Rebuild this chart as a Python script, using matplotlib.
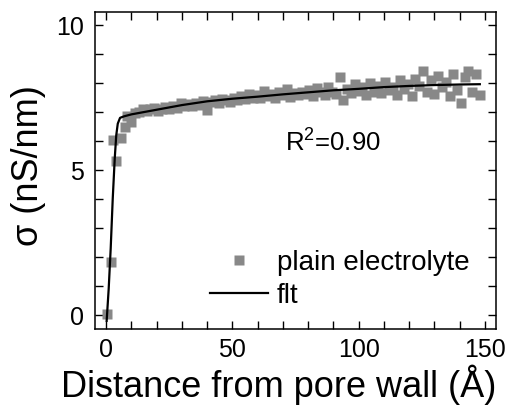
import matplotlib
matplotlib.use("Agg")
import matplotlib.pyplot as plt
from matplotlib.ticker import MultipleLocator

plt.rcParams['font.family'] = ['Liberation Sans', 'DejaVu Sans']
plt.rcParams['mathtext.default'] = 'regular'

# measured conductivity (plain electrolyte)
dist_near = [0.3, 1.9, 2.8, 4.0, 5.7, 7.3, 8.3]
sigma_near = [0.02, 1.84, 6.05, 5.3, 6.1, 6.5, 6.85]

dist_far = [10 + 1.5 * i for i in range(93)]
sigma_far = [
    6.65, 6.95, 7.0, 7.12, 7.05, 7.1, 7.15, 7.05, 7.12, 7.18,
    7.1, 7.2, 7.15, 7.3, 7.22, 7.28, 7.2, 7.32, 7.25, 7.38,
    7.08, 7.35, 7.42, 7.3, 7.45, 7.4, 7.36, 7.5, 7.42, 7.55,
    7.45, 7.62, 7.5, 7.58, 7.48, 7.72, 7.55, 7.62, 7.5, 7.68,
    7.6, 7.78, 7.52, 7.65, 7.58, 7.7, 7.62, 7.75, 7.55, 7.82,
    7.68, 7.6, 7.85, 7.7, 7.62, 8.2, 7.42, 7.8, 7.65, 7.95,
    7.72, 7.85, 7.58, 8.0, 7.7, 7.9, 7.65, 8.02, 7.75, 7.88,
    7.6, 8.1, 7.8, 7.95, 7.55, 8.15, 7.9, 8.42, 7.7, 8.1,
    7.62, 8.25, 7.85, 8.05, 7.55, 8.3, 7.75, 7.3, 8.2, 8.42,
    7.7, 8.3, 7.6,
]

# fitted curve
fit_x = [0.2, 1.0, 1.8, 2.6, 3.4, 4.0, 4.6, 5.5, 7, 10, 20, 30, 40, 50,
         60, 70, 80, 90, 100, 110, 120, 130, 140, 148]
fit_y = [-0.2, 0.9, 2.3, 4.0, 5.4, 6.2, 6.6, 6.8, 6.85, 6.92, 7.08, 7.24,
         7.37, 7.46, 7.53, 7.61, 7.68, 7.75, 7.8, 7.86, 7.9, 7.93, 7.95, 7.96]

fig = plt.figure(figsize=(5.11, 4.12), dpi=100)
ax = fig.add_axes([0.186, 0.2015, 0.7846, 0.7694])

ax.plot(dist_near + dist_far, sigma_near + sigma_far, 's', color='#888888',
        ms=7, mec='none', label='plain electrolyte')
ax.plot(fit_x, fit_y, '-', color='black', lw=1.6, label='flt')

ax.set_xlim(-4.4, 154.4)
ax.set_ylim(-0.48, 10.45)
ax.xaxis.set_major_locator(MultipleLocator(50))
ax.xaxis.set_minor_locator(MultipleLocator(10))
ax.yaxis.set_major_locator(MultipleLocator(5))
ax.yaxis.set_minor_locator(MultipleLocator(1))
ax.tick_params(which='both', direction='in', top=True, right=True,
               length=5.5, width=1.0)
ax.tick_params(which='major', labelsize=18, pad=8)
ax.tick_params(axis='x', which='major', pad=6.5)
for s in ax.spines.values():
    s.set_linewidth(1.1)

ax.set_xlabel('Distance from pore wall (Å)', fontsize=26)
ax.xaxis.set_label_coords(0.459, -0.112)
ax.set_ylabel('σ (nS/nm)', fontsize=26)
ax.yaxis.set_label_coords(-0.122, 0.515)

ax.text(70.8, 5.62, 'R$^{2}$=0.90', fontsize=18.5)

ax.legend(loc='lower left', bbox_to_anchor=(0.287, 0.063), frameon=False,
          fontsize=20, handlelength=2.1, handletextpad=0.3,
          labelspacing=0.25, borderaxespad=0, borderpad=0)

fig.savefig('out.png', dpi=100)
